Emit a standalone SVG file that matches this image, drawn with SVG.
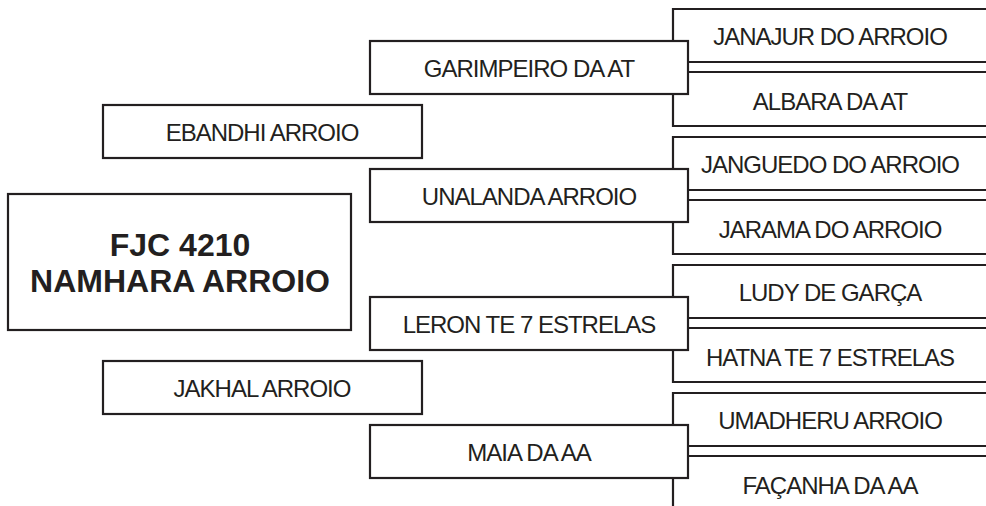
<svg xmlns="http://www.w3.org/2000/svg" width="986" height="506" viewBox="0 0 986 506">
<style>
.ln{fill:none;stroke:#231f20;stroke-width:2.2}
.bx{fill:#fff;stroke:#231f20;stroke-width:2.2}
.t{font-family:"Liberation Sans",Arial,sans-serif;font-size:24px;letter-spacing:-1px;fill:#231f20;text-anchor:middle}
.tb{font-family:"Liberation Sans",Arial,sans-serif;font-size:32px;font-weight:bold;fill:#231f20;text-anchor:middle}
</style>
<rect width="986" height="506" fill="#fff"/>
<g id="connectors">
<path class="ln" d="M986 9H673V126H986M673 62H986M673 72H986"/>
<path class="ln" d="M986 137H673V254H986M673 190H986M673 200H986"/>
<path class="ln" d="M986 265H673V382H986M673 318H986M673 328H986"/>
<path class="ln" d="M986 393H673V510H986M673 446H986M673 456H986"/>
</g>
<g id="n-janajur"><text class="t" x="830" y="45">JANAJUR DO ARROIO</text></g>
<g id="n-albara"><text class="t" x="830" y="110">ALBARA DA AT</text></g>
<g id="n-janguedo"><text class="t" x="830" y="173">JANGUEDO DO ARROIO</text></g>
<g id="n-jarama"><text class="t" x="830" y="238">JARAMA DO ARROIO</text></g>
<g id="n-ludy"><text class="t" x="830" y="301">LUDY DE GARÇA</text></g>
<g id="n-hatna"><text class="t" x="830" y="366">HATNA TE 7 ESTRELAS</text></g>
<g id="n-umadheru"><text class="t" x="830" y="429">UMADHERU ARROIO</text></g>
<g id="n-facanha"><text class="t" x="830" y="494">FAÇANHA DA AA</text></g>
<g id="n-garimpeiro"><rect class="bx" x="370" y="41" width="318" height="53"/><text class="t" x="529" y="77">GARIMPEIRO DA AT</text></g>
<g id="n-unalanda"><rect class="bx" x="370" y="169" width="318" height="53"/><text class="t" x="529" y="205">UNALANDA ARROIO</text></g>
<g id="n-leron"><rect class="bx" x="370" y="297" width="318" height="53"/><text class="t" x="529" y="333">LERON TE 7 ESTRELAS</text></g>
<g id="n-maia"><rect class="bx" x="370" y="425" width="318" height="53"/><text class="t" x="529" y="461">MAIA DA AA</text></g>
<g id="n-ebandhi"><rect class="bx" x="103" y="105" width="319" height="53"/><text class="t" x="262" y="141">EBANDHI ARROIO</text></g>
<g id="n-jakhal"><rect class="bx" x="103" y="361" width="319" height="53"/><text class="t" x="262" y="397">JAKHAL ARROIO</text></g>
<g id="n-main"><rect class="bx" x="8" y="194" width="343" height="136"/><text class="tb" x="180" y="256">FJC 4210</text><text class="tb" x="180" y="292">NAMHARA ARROIO</text></g>
</svg>
